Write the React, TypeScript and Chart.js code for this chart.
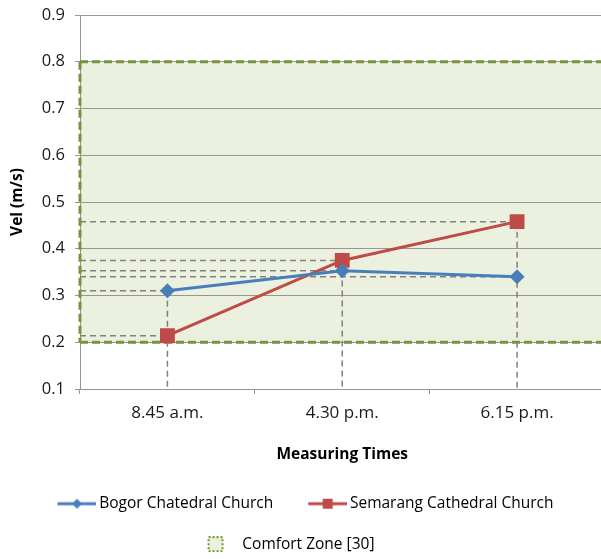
import React, { useEffect, useRef } from "react";
import { Chart, registerables } from "chart.js";

Chart.register(...registerables);

const categories = ["8.45 a.m.", "4.30 p.m.", "6.15 p.m."];
const bogorValues = [0.31, 0.353, 0.34];
const semarangValues = [0.214, 0.375, 0.458];
const seriesNames = ["Bogor Chatedral Church", "Semarang Cathedral Church"];
const comfortLabel = "Comfort Zone [30]";
const comfortRange = [0.2, 0.8];
const yTicks = [0.1, 0.2, 0.3, 0.4, 0.5, 0.6, 0.7, 0.8, 0.9];

const BLUE = "#4A7EBB";
const RED = "#BE4B48";
const GREEN_FILL = "rgb(235,241,222)";
const GREEN_LINE = "rgb(119,147,60)";
const FONT = "'Open Sans', Lato, sans-serif";

function makeLegendIcon(color: string, shape: "diamond" | "square"): HTMLCanvasElement {
  const c = document.createElement("canvas");
  c.width = 54;
  c.height = 16;
  const ctx = c.getContext("2d")!;
  ctx.strokeStyle = color;
  ctx.lineWidth = 3;
  ctx.beginPath();
  ctx.moveTo(15, 8);
  ctx.lineTo(54, 8);
  ctx.stroke();
  ctx.fillStyle = color;
  ctx.beginPath();
  if (shape === "diamond") {
    ctx.moveTo(34.5, 3);
    ctx.lineTo(39.5, 8);
    ctx.lineTo(34.5, 13);
    ctx.lineTo(29.5, 8);
    ctx.closePath();
  } else {
    ctx.rect(29.5, 3, 10, 10);
  }
  ctx.fill();
  return c;
}

function makeComfortIcon(): HTMLCanvasElement {
  const c = document.createElement("canvas");
  c.width = 44;
  c.height = 16;
  const ctx = c.getContext("2d")!;
  ctx.fillStyle = GREEN_FILL;
  ctx.fillRect(18, 1, 14, 14);
  ctx.strokeStyle = GREEN_LINE;
  ctx.lineWidth = 2;
  ctx.setLineDash([2, 2]);
  ctx.strokeRect(18, 1, 14, 14);
  return c;
}

const comfortPlugin = {
  id: "comfortZone",
  afterLayout(chart: any) {
    const lg = chart.legend;
    if (lg && lg.lineWidths && lg.lineWidths.length > 1) {
      lg.lineWidths[0] += 14;
      lg.lineWidths[1] += 50;
    }
  },
  beforeDraw(chart: any) {
    const { ctx, chartArea, scales } = chart;
    const yTop = scales.y.getPixelForValue(comfortRange[1]);
    const yBot = scales.y.getPixelForValue(comfortRange[0]);
    ctx.save();
    ctx.fillStyle = GREEN_FILL;
    ctx.fillRect(chartArea.left, yTop, chartArea.right - chartArea.left, yBot - yTop);
    ctx.restore();
  },
  beforeDatasetsDraw(chart: any) {
    const { ctx, chartArea, scales } = chart;
    const yTop = scales.y.getPixelForValue(comfortRange[1]);
    const yBot = scales.y.getPixelForValue(comfortRange[0]);
    ctx.save();
    ctx.strokeStyle = "rgb(128,128,128)";
    ctx.lineWidth = 1.5;
    ctx.setLineDash([6, 4]);
    const all = [bogorValues, semarangValues];
    categories.forEach((_, i) => {
      const x = scales.x.getPixelForValue(i);
      let maxV = -Infinity;
      all.forEach((arr) => {
        const v = arr[i];
        if (v > maxV) maxV = v;
        const y = scales.y.getPixelForValue(v);
        ctx.beginPath();
        ctx.moveTo(chartArea.left, y);
        ctx.lineTo(x, y);
        ctx.stroke();
      });
      ctx.beginPath();
      ctx.moveTo(x, scales.y.getPixelForValue(maxV));
      ctx.lineTo(x, chartArea.bottom);
      ctx.stroke();
    });
    ctx.strokeStyle = GREEN_LINE;
    ctx.lineWidth = 3;
    ctx.setLineDash([8, 4]);
    ctx.beginPath();
    ctx.moveTo(chartArea.left, yTop);
    ctx.lineTo(chartArea.right, yTop);
    ctx.moveTo(chartArea.left, yBot);
    ctx.lineTo(chartArea.right, yBot);
    ctx.moveTo(chartArea.left, yTop);
    ctx.lineTo(chartArea.left, yBot);
    ctx.moveTo(chartArea.right, yTop);
    ctx.lineTo(chartArea.right, yBot);
    ctx.stroke();
    ctx.restore();
  },
};

export default function App() {
  const canvasRef = useRef<HTMLCanvasElement | null>(null);

  useEffect(() => {
    if (!canvasRef.current) return;
    const icons = [makeLegendIcon(BLUE, "diamond"), makeLegendIcon(RED, "square"), makeComfortIcon()];
    const chart = new Chart(canvasRef.current, {
      type: "line",
      data: {
        labels: categories,
        datasets: [
          {
            label: seriesNames[0],
            data: bogorValues,
            borderColor: BLUE,
            backgroundColor: BLUE,
            borderWidth: 3,
            pointStyle: "rectRot",
            pointRadius: 7.5,
            pointBorderWidth: 0,
          },
          {
            label: seriesNames[1],
            data: semarangValues,
            borderColor: RED,
            backgroundColor: RED,
            borderWidth: 3,
            pointStyle: "rect",
            pointRadius: 10.5,
            pointBorderWidth: 0,
          },
        ],
      },
      options: {
        responsive: true,
        maintainAspectRatio: false,
        animation: false,
        layout: { padding: { top: 15, left: 0, right: 0, bottom: -3 } },
        plugins: {
          tooltip: { enabled: false },
          legend: {
            position: "bottom",
            onClick: () => {},
            labels: {
              usePointStyle: true,
              pointStyleWidth: 44,
              padding: 25,
              color: "#1a1a1a",
              font: { family: FONT, size: 15.5 },
              generateLabels: () => [
                { text: seriesNames[0], pointStyle: icons[0], fillStyle: BLUE, strokeStyle: BLUE, lineWidth: 0, hidden: false, datasetIndex: 0 },
                { text: seriesNames[1], pointStyle: icons[1], fillStyle: RED, strokeStyle: RED, lineWidth: 0, hidden: false, datasetIndex: 1 },
                { text: comfortLabel, pointStyle: icons[2], fillStyle: GREEN_FILL, strokeStyle: GREEN_LINE, lineWidth: 0, hidden: false },
              ] as any,
            },
          },
        },
        scales: {
          x: {
            type: "category",
            offset: true,
            grid: {
              offset: true,
              drawOnChartArea: false,
              drawTicks: true,
              tickLength: 5,
              color: "rgb(150,150,150)",
            },
            border: { color: "rgb(150,150,150)", width: 1 },
            ticks: { color: "#1a1a1a", padding: 9, font: { family: FONT, size: 17 } },
            title: {
              display: true,
              text: "Measuring Times",
              color: "#000",
              font: { family: FONT, size: 15.5, weight: "bold" },
              padding: { top: 0, bottom: 7 },
            },
            afterFit: (scale: any) => {
              scale.height = 82;
            },
          },
          y: {
            min: 0.1,
            max: 0.9,
            afterBuildTicks: (scale: any) => {
              scale.ticks = yTicks.map((v) => ({ value: v }));
            },
            grid: {
              color: "rgb(150,150,150)",
              tickLength: 5,
            },
            border: { color: "rgb(150,150,150)", width: 1 },
            ticks: {
              color: "#1a1a1a",
              padding: 10,
              font: { family: FONT, size: 16.5 },
              callback: (v: any) => Number(v).toFixed(1),
            },
            title: {
              display: true,
              text: "Vel (m/s)",
              color: "#000",
              font: { family: FONT, size: 15.5, weight: "bold" },
              padding: { top: 8, bottom: 0 },
            },
            afterFit: (scale: any) => {
              scale.width = 80;
              scale.paddingTop = 0;
              scale.paddingBottom = 0;
            },
          },
        },
      },
      plugins: [comfortPlugin],
    });
    return () => chart.destroy();
  }, []);

  return (
    <div style={{ position: "fixed", left: 0, top: 0, width: 601, height: 559, overflow: "hidden", background: "#fff" }}>
      <div style={{ position: "relative", width: 615, height: 559 }}>
        <canvas ref={canvasRef} />
      </div>
    </div>
  );
}
